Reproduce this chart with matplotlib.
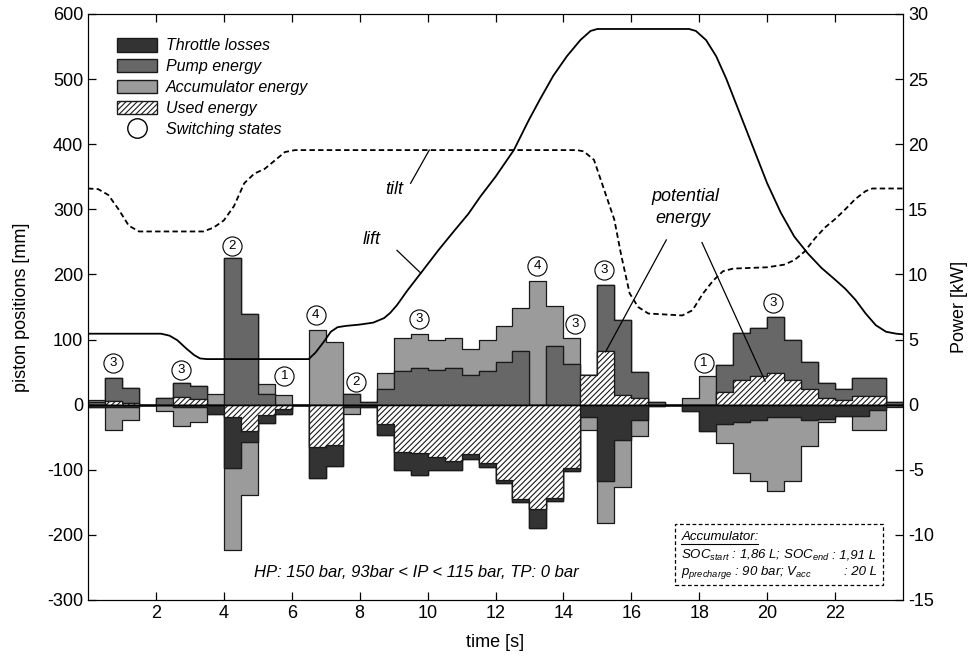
import numpy as np
import matplotlib
matplotlib.use("Agg")
import matplotlib.pyplot as plt
from matplotlib.patches import Patch, Rectangle
from matplotlib.lines import Line2D

plt.rcParams["font.family"] = ["Liberation Sans", "DejaVu Sans"]
plt.rcParams["mathtext.fontset"] = "custom"
plt.rcParams["mathtext.rm"] = "Liberation Sans"
plt.rcParams["mathtext.it"] = "Liberation Sans:italic"
plt.rcParams["hatch.linewidth"] = 0.8
plt.rcParams["axes.unicode_minus"] = False

# energy blocks per 0.5 s bin (mm on the left axis, 20 mm = 1 kW)
bin_width = 0.5
used_up = [0, 5, 3, 0, 0, 12, 8, 0, 0, 0, 0, 0, 0, 0, 0, 0,
           0, 0, 0, 0, 0, 0, 0, 0, 0, 0, 0, 0, 0, 46, 83, 15,
           11, 0, 0, 0, 0, 20, 38, 44, 49, 38, 24, 10, 7, 14, 14, 0]
pump = [4, 36, 22, 0, 11, 22, 21, 0, 225, 140, 17, 0, 0, 0, 0, 16,
        4, 24, 51, 56, 53, 56, 46, 51, 66, 83, 0, 90, 62, 0, 101, 115,
        39, 4, 0, 0, 0, 41, 72, 74, 85, 61, 42, 24, 17, 27, 27, 4]
acc_out = [3, 0, 0, 0, 0, 0, 0, 16, 0, 0, 15, 15, 0, 114, 96, 0,
           0, 25, 52, 53, 47, 47, 39, 49, 55, 66, 190, 62, 40, 0, 0, 0,
           0, 0, 0, 11, 44, 0, 0, 0, 0, 0, 0, 0, 0, 0, 0, 0]
used_dn = [0, 0, 0, 0, 0, 0, 0, 0, 19, 41, 16, 7, 0, 65, 62, 0,
           0, 30, 72, 74, 81, 86, 76, 90, 115, 145, 160, 143, 98, 0, 0, 0,
           0, 0, 0, 0, 0, 0, 0, 0, 0, 0, 0, 0, 0, 0, 0, 0]
throttle = [4, 3, 3, 0, 0, 3, 3, 14, 78, 17, 12, 7, 0, 48, 32, 4,
            3, 16, 29, 34, 20, 15, 8, 6, 5, 4, 30, 5, 4, 19, 118, 54,
            23, 2, 0, 9, 41, 29, 26, 23, 19, 19, 23, 22, 18, 18, 8, 0]
acc_in = [0, 36, 20, 0, 10, 29, 23, 0, 126, 81, 0, 0, 0, 0, 0, 10,
          0, 0, 0, 0, 0, 0, 0, 0, 0, 0, 0, 0, 0, 20, 64, 73,
          25, 0, 0, 0, 0, 30, 79, 95, 113, 99, 41, 5, 0, 21, 31, 3]

# cylinder positions
lift_t = [0, 2.15, 2.4, 2.63, 2.9, 3.13, 3.3, 3.5, 6.5, 6.7, 6.95, 7.15, 7.35,
          7.6, 8.0, 8.4, 8.72, 8.9, 9.1, 9.4, 9.8, 10.33, 10.8, 11.2, 11.56,
          12.0, 12.54, 12.98, 13.3, 13.7, 14.1, 14.5, 14.8, 15.0, 17.7, 17.9,
          18.2, 18.5, 18.8, 19.1, 19.4, 19.7, 20.0, 20.4, 20.8, 21.2, 21.6,
          22.0, 22.3, 22.6, 22.9, 23.2, 23.5, 23.8, 24.0]
lift_mm = [109, 109, 106, 99, 86, 76, 71, 70, 70, 80, 97, 112, 119,
           121, 123, 126, 133, 141, 153, 175, 202, 238, 268, 293, 320,
           350, 391, 437, 468, 505, 535, 560, 574, 577, 577, 574,
           560, 535, 500, 460, 420, 380, 340, 295, 258, 232, 210,
           192, 178, 161, 140, 122, 112, 109, 108]
tilt_t = [0, 0.3, 0.6, 0.9, 1.2, 1.5, 3.4, 3.7, 4.0, 4.3, 4.6, 4.9, 5.2, 5.5,
          5.8, 6.1, 14.4, 14.6, 14.9, 15.2, 15.5, 15.7, 15.95, 16.2, 16.5,
          17.5, 17.8, 18.1, 18.4, 18.7, 19.0, 20.0, 20.5, 20.8, 21.1, 21.4,
          21.7, 22.0, 22.3, 22.6, 22.9, 23.1, 24.0]
tilt_mm = [332, 331, 322, 300, 275, 266, 266, 272, 283, 305, 340, 355, 362, 375,
           388, 391, 391, 389, 376, 330, 284, 230, 171, 150, 140,
           137, 145, 170, 190, 205, 209, 211, 215, 222, 235, 255,
           272, 285, 300, 316, 328, 332, 332]

# switching state markers
state_t = [0.75, 2.75, 4.24, 5.78, 6.7, 7.88, 9.75, 13.22, 14.35, 15.2, 18.13, 20.18]
state_mm = [64, 53, 244, 44, 137, 35, 131, 213, 124, 207, 64, 156]
state_no = ["3", "3", "2", "1", "4", "2", "3", "4", "3", "3", "1", "3"]

c_thr, c_pump, c_acc = "#333333", "#676767", "#9b9b9b"
edge = "#1a1a1a"

fig = plt.figure(figsize=(9.75, 6.68), dpi=100)
ax = fig.add_axes([88 / 975, 1 - 600 / 668, 815 / 975, 586 / 668])
ax.set_xlim(0, 24)
ax.set_ylim(-300, 600)

n = len(pump)
t_edges = np.arange(n + 1) * bin_width


def step_layer(lo, hi, **kw):
    lo = np.append(lo, lo[-1])
    hi = np.append(hi, hi[-1])
    ax.fill_between(t_edges, lo, hi, step="post", edgecolor=edge, linewidth=0.9, **kw)


zero = np.zeros(n)
u_up = np.array(used_up, float)
p_top = u_up + np.array(pump)
a_top = p_top + np.array(acc_out)
u_dn = -np.array(used_dn, float)
t_bot = u_dn - np.array(throttle)
a_bot = t_bot - np.array(acc_in)

step_layer(p_top, a_top, facecolor=c_acc)
step_layer(u_up, p_top, facecolor=c_pump)
step_layer(zero, u_up, facecolor="white", hatch="//////")
step_layer(a_bot, t_bot, facecolor=c_acc)
step_layer(t_bot, u_dn, facecolor=c_thr)
step_layer(u_dn, zero, facecolor="white", hatch="//////")

ax.axhline(0, color="black", lw=1)

ax.plot(lift_t, lift_mm, color="black", lw=1.3)
ax.plot(tilt_t, tilt_mm, color="black", lw=1.3, dashes=(3, 1.8))

ax.scatter(state_t, state_mm, s=190, facecolors="white", edgecolors="black", linewidths=0.8, zorder=5)
for t, m, s in zip(state_t, state_mm, state_no):
    ax.text(t, m, s, ha="center", va="center", fontsize=9.5, zorder=6)

# labels and leader lines
ax.text(8.75, 330, "tilt", fontsize=13, style="italic", ha="left", va="center")
ax.plot([9.5, 10.05], [340, 391], color="black", lw=0.9)
ax.text(8.1, 253, "lift", fontsize=13, style="italic", ha="left", va="center")
ax.plot([9.1, 9.8], [237, 202], color="black", lw=0.9)
ax.text(16.6, 320, "potential", fontsize=13, style="italic", ha="left", va="center")
ax.text(16.7, 286, "energy", fontsize=13, style="italic", ha="left", va="center")
ax.plot([17.03, 15.24], [253, 81], color="black", lw=0.9)
ax.plot([18.08, 19.94], [249, 36], color="black", lw=0.9)

ax.text(4.88, -257, "HP: 150 bar, 93bar < IP < 115 bar, TP: 0 bar",
        fontsize=12, style="italic", ha="left", va="center")

ax.add_patch(Rectangle((17.29, -277), 6.12, 94, fill=False, ls=(0, (3, 2)), lw=0.9, ec="black"))
ax.text(17.47, -203, "Accumulator:", fontsize=9.5, style="italic", va="center")
ax.plot([17.47, 19.72], [-214, -214], color="black", lw=0.8)
ax.text(17.47, -231, r"$SOC_{start}$ : 1,86 L; $SOC_{end}$", fontsize=9.5, style="italic", va="center")
ax.text(21.9, -231, ": 1,91 L", fontsize=9.5, style="italic", va="center")
ax.text(17.47, -257, r"$p_{precharge}$ : 90 bar; $V_{acc}$", fontsize=9.5, style="italic", va="center")
ax.text(22.25, -257, ": 20 L", fontsize=9.5, style="italic", va="center")

# axes
ax.set_xticks(np.arange(2, 24, 2))
ax.set_yticks(np.arange(-300, 601, 100))
ax.tick_params(direction="in", length=6, labelsize=13, top=True, width=0.9)
ax.set_xlabel("time [s]", fontsize=13, labelpad=9)
ax.set_ylabel("piston positions [mm]", fontsize=13, labelpad=12)

ax2 = ax.twinx()
ax2.set_ylim(-15, 30)
ax2.set_yticks(np.arange(-15, 31, 5))
ax2.tick_params(direction="in", length=6, labelsize=13, width=0.9)
ax2.set_ylabel("Power [kW]", fontsize=13, labelpad=12)

handles = [
    Patch(facecolor=c_thr, edgecolor=edge, label="Throttle losses"),
    Patch(facecolor=c_pump, edgecolor=edge, label="Pump energy"),
    Patch(facecolor=c_acc, edgecolor=edge, label="Accumulator energy"),
    Patch(facecolor="white", edgecolor=edge, hatch="//////", label="Used energy"),
    Line2D([], [], marker="o", ls="none", mfc="white", mec="black", ms=14, label="Switching states"),
]
leg = ax.legend(handles=handles, loc="upper left", bbox_to_anchor=(0.018, 0.983), frameon=False,
                prop={"size": 11.5, "style": "italic"}, handlelength=2.5, handleheight=0.9,
                labelspacing=0.36, handletextpad=0.55)

fig.savefig("out.png", dpi=100)
